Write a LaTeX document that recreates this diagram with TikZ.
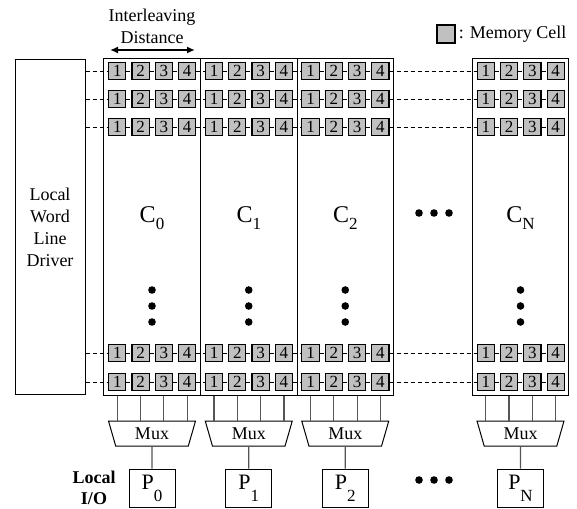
\documentclass[tikz,border=0pt]{standalone}
\usepackage{fontspec}
\setmainfont{Liberation Serif}
\usetikzlibrary{shapes.geometric, arrows.meta, positioning}
\definecolor{cellgray}{RGB}{192,192,192}
\definecolor{wiregray}{RGB}{85,85,85}

\newcommand{\lowidx}[2][3.5pt]{\raisebox{-#1}{\fontsize{8.5}{8.5}\selectfont #2}}

\tikzset{
  cellbox/.style={draw, fill=cellgray, line width=0.55pt, minimum width=8.6pt,
    minimum height=8.6pt, inner sep=0pt, font=\fontsize{8.5}{8.5}\selectfont},
  colbox/.style={draw, line width=0.5pt, minimum width=48.25pt, minimum height=168pt, inner sep=0pt},
  drvbox/.style={draw, line width=0.5pt, minimum width=35pt, minimum height=167.5pt,
    inner sep=0pt, align=center},
  muxbox/.style={draw, trapezium, trapezium left angle=59, trapezium right angle=59,
    shape border rotate=180, trapezium stretches body, minimum width=43.5pt,
    minimum height=12.5pt, inner sep=0pt, line width=0.5pt},
  pbox/.style={draw, minimum width=23pt, minimum height=19pt, inner sep=0pt,
    line width=0.5pt, font=\fontsize{11}{11}\selectfont},
  wordline/.style={dash pattern=on 2pt off 1.5pt, line width=0.4pt},
  bitline/.style={draw=wiregray, line width=0.6pt},
  dotmark/.style={circle, fill, inner sep=0pt, minimum size=3.8pt},
}

\begin{document}
\begin{tikzpicture}[x=0.5pt, y=-0.5pt, font=\fontsize{9}{11}\selectfont]
  \useasboundingbox (0,0) rectangle (577,508);

  % legend
  \node[cellbox, minimum size=9pt] (legcell) at (446,34) {};
  \node[right=1.5pt of legcell, inner sep=0pt] (legtext) {: Memory Cell};

  % interleaving distance
  \node[align=center, inner sep=0pt] (intl) at (152,26) {Interleaving\\Distance};
  \coordinate (ida) at (110,50);
  \coordinate (idb) at (195,50);
  \draw[{Latex[length=4pt,width=3.5pt]}-{Latex[length=4pt,width=3.5pt]}, line width=0.9pt] (ida) -- (idb);

  % word line driver
  \node[drvbox] (drv) at (50,227) {Local\\Word\\Line\\Driver};

  % columns, muxes and ports
  \foreach \c/\cx/\lab in {0/152/0, 1/248.75/1, 2/345.25/2, n/520.5/N} {
    \node[colbox] (col-\c) at (\cx,227) {};
    \node[anchor=base, font=\fontsize{12}{12}\selectfont] (lab-\c) at (\cx,222) {C\lowidx{\lab}};
    \foreach \r/\ry in {1/71, 2/99, 3/127, 4/353, 5/382}
      \foreach \k in {1,...,4}
        \node[cellbox] (cell-\c-\r-\k) at ({\cx-34.75+23.3*(\k-1)},\ry) {\k};
    \foreach \dy in {290,306,322}
      \node[dotmark] (vdot-\c-\dy) at (\cx,\dy) {};
    \node[muxbox] (mux-\c) at (\cx,433.5) {Mux};
    \foreach \k in {1,...,4}
      \draw[bitline] (cell-\c-5-\k |- col-\c.south) -- (cell-\c-5-\k |- mux-\c.north);
    \node[pbox] (p-\c) at (\cx,488) {P\lowidx[6pt]{\lab}};
    \draw[bitline] (mux-\c) -- (p-\c);
  }

  % word lines
  \foreach \r in {1,...,5} {
    \draw[wordline] (drv.east |- cell-0-\r-1) -- (cell-0-\r-1);
    \foreach \c in {0,1,2,n}
      \foreach \k/\kn in {1/2,2/3,3/4}
        \draw[wordline] (cell-\c-\r-\k) -- (cell-\c-\r-\kn);
    \foreach \a/\b in {0/1,1/2,2/n}
      \draw[wordline] (cell-\a-\r-4) -- (cell-\b-\r-1);
  }

  % ellipses
  \foreach \dx in {419,434,449} {
    \node[dotmark] (hdot-\dx) at (\dx,213) {};
    \node[dotmark] (pdot-\dx) at (\dx,480) {};
  }

  \node[align=center, inner sep=0pt, font=\fontsize{9}{10.5}\selectfont\bfseries] (lio) at (94,488) {Local\\I/O};
\end{tikzpicture}
\end{document}
